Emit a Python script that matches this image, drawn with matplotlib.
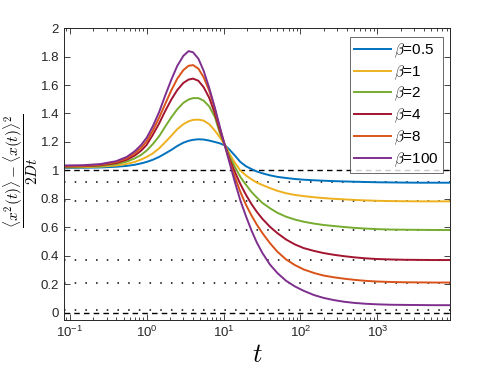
import numpy as np
import matplotlib.pyplot as plt
from matplotlib.ticker import LogLocator, NullFormatter

plt.rcParams['mathtext.fontset'] = 'cm'
plt.rcParams['font.family'] = ['Liberation Sans', 'DejaVu Sans']

# tiempos
t = [0.085, 0.15, 0.25, 0.4, 0.55, 0.7, 0.85, 1.0, 1.2, 1.45, 1.75, 2.1, 2.5, 3.0, 3.5,
     4.0, 4.7, 5.5, 6.5, 7.7, 9, 10.5, 12, 14, 16.5, 19.5, 23, 27, 32, 40, 50, 65, 85,
     110, 150, 200, 270, 370, 500, 700, 1000, 1500, 2200, 3500, 5500, 8800]

betas = ['0.5', '1', '2', '4', '8', '100']

y_b05 = [1.018, 1.019, 1.021, 1.026, 1.032, 1.040, 1.050, 1.060, 1.075, 1.095, 1.12,
         1.145, 1.172, 1.195, 1.208, 1.215, 1.219, 1.217, 1.21, 1.20, 1.19, 1.175, 1.145,
         1.105, 1.06, 1.03, 1.01, 0.993, 0.98, 0.966, 0.955, 0.947, 0.94, 0.935, 0.931,
         0.928, 0.925, 0.923, 0.921, 0.919, 0.917, 0.916, 0.915, 0.914, 0.914, 0.914]
y_b1 = [1.022, 1.023, 1.027, 1.035, 1.046, 1.06, 1.077, 1.095, 1.12, 1.155, 1.20, 1.245,
        1.29, 1.325, 1.345, 1.355, 1.357, 1.35, 1.325, 1.28, 1.23, 1.175, 1.115, 1.055,
        1.0, 0.965, 0.938, 0.915, 0.898, 0.876, 0.857, 0.84, 0.828, 0.82, 0.812, 0.806,
        0.801, 0.797, 0.793, 0.79, 0.787, 0.785, 0.784, 0.783, 0.783, 0.783]
y_b2 = [1.025, 1.027, 1.032, 1.045, 1.062, 1.085, 1.11, 1.14, 1.185, 1.24, 1.31, 1.375,
        1.43, 1.475, 1.498, 1.508, 1.508, 1.49, 1.45, 1.375, 1.257, 1.172, 1.095, 1.025,
        0.955, 0.90, 0.85, 0.81, 0.772, 0.735, 0.703, 0.675, 0.655, 0.64, 0.627, 0.617,
        0.61, 0.603, 0.597, 0.592, 0.588, 0.585, 0.584, 0.583, 0.582, 0.582]
y_b4 = [1.028, 1.03, 1.037, 1.052, 1.075, 1.105, 1.14, 1.18, 1.25, 1.33, 1.42, 1.50,
        1.565, 1.615, 1.638, 1.645, 1.63, 1.585, 1.51, 1.40, 1.275, 1.17, 1.077, 0.99,
        0.905, 0.83, 0.765, 0.71, 0.66, 0.605, 0.56, 0.515, 0.48, 0.455, 0.435, 0.42,
        0.408, 0.398, 0.39, 0.383, 0.378, 0.375, 0.373, 0.372, 0.371, 0.371]
y_b8 = [1.03, 1.032, 1.04, 1.058, 1.085, 1.12, 1.16, 1.205, 1.28, 1.37, 1.47, 1.565,
        1.645, 1.705, 1.735, 1.74, 1.715, 1.655, 1.56, 1.43, 1.29, 1.168, 1.063, 0.955,
        0.85, 0.76, 0.685, 0.62, 0.56, 0.49, 0.43, 0.375, 0.335, 0.305, 0.28, 0.262,
        0.25, 0.24, 0.232, 0.225, 0.22, 0.217, 0.215, 0.214, 0.213, 0.213]
y_b100 = [1.035, 1.037, 1.045, 1.065, 1.095, 1.135, 1.18, 1.23, 1.31, 1.41, 1.53, 1.64,
          1.735, 1.805, 1.838, 1.83, 1.785, 1.70, 1.58, 1.44, 1.30, 1.165, 1.05, 0.92,
          0.79, 0.68, 0.58, 0.495, 0.42, 0.34, 0.28, 0.225, 0.185, 0.155, 0.125, 0.105,
          0.09, 0.078, 0.07, 0.064, 0.06, 0.057, 0.056, 0.055, 0.054, 0.054]

series = [y_b05, y_b1, y_b2, y_b4, y_b8, y_b100]

# asintotas (punteadas) y referencias (discontinuas)
asint = [0.918, 0.787, 0.582, 0.371, 0.208, 0.021]
refs = [1, 0]

colores = [(0, 0.447, 0.741), (0.929, 0.694, 0.125), (0.466, 0.674, 0.188),
           (0.635, 0.078, 0.184), (0.85, 0.325, 0.098), (0.494, 0.184, 0.556)]

fig = plt.figure(figsize=(4.98, 3.74), dpi=100)
ax = fig.add_axes([0.1285, 0.1444, 0.7751, 0.7806])

for a in asint:
    ax.axhline(a, color='k', ls=(0, (1, 6)), lw=1.1)
for r in refs:
    ax.axhline(r, color='k', ls=(0, (4, 3)), lw=1.0)

for y, b, c in zip(series, betas, colores):
    ax.plot(t, y, color=c, lw=1.4, label=r'$\beta$=' + b)

ax.set_xscale('log')
ax.set_xlim(0.084, 8800)
ax.set_ylim(-0.05, 2)
ax.set_yticks(np.arange(0, 2.01, 0.2))
ax.set_yticklabels(['0', '0.2', '0.4', '0.6', '0.8', '1', '1.2', '1.4', '1.6', '1.8', '2'])
ax.xaxis.set_major_locator(LogLocator(base=10, numticks=10))
ax.xaxis.set_minor_locator(LogLocator(base=10, subs=np.arange(2, 10), numticks=20))
ax.xaxis.set_minor_formatter(NullFormatter())

gris = (0.15, 0.15, 0.15)
ax.tick_params(which='both', direction='in', top=True, right=True, colors=gris,
               labelsize=9.5, width=0.6)
ax.tick_params(which='major', length=4)
ax.tick_params(which='minor', length=2)
for s in ax.spines.values():
    s.set_color(gris)
    s.set_linewidth(0.7)

ax.set_xlabel(r'$t$', fontsize=19, labelpad=2)
ax.set_ylabel(r'$\dfrac{\langle x^2(t)\rangle - \langle x(t)\rangle^2}{2Dt}$',
              fontsize=11)
ax.yaxis.set_label_coords(-0.062, 0.51)

leg = ax.legend(loc='upper right', fontsize=11, handlelength=2.4, handletextpad=0.2,
                borderpad=0.3, labelspacing=0.22, fancybox=False,
                bbox_to_anchor=(0.982, 0.97), borderaxespad=0)
leg.get_frame().set_edgecolor(gris)
leg.get_frame().set_linewidth(0.6)

fig.savefig('out.png', dpi=100)
